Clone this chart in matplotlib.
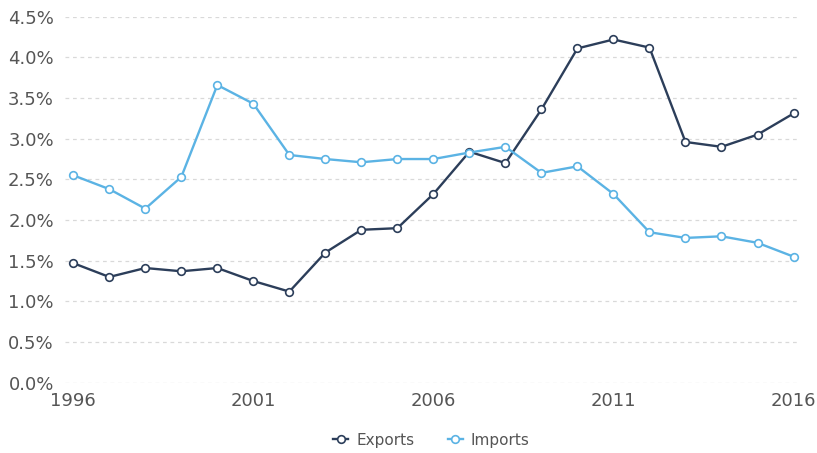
import matplotlib.pyplot as plt
from matplotlib.ticker import FuncFormatter

years = list(range(1996, 2017))
exports = [1.47, 1.30, 1.41, 1.37, 1.41, 1.25, 1.12, 1.60, 1.88, 1.90,
           2.32, 2.84, 2.70, 3.36, 4.11, 4.22, 4.12, 2.96, 2.90, 3.05, 3.31]
imports = [2.55, 2.38, 2.14, 2.53, 3.66, 3.43, 2.80, 2.75, 2.71, 2.75,
           2.75, 2.83, 2.90, 2.58, 2.66, 2.32, 1.85, 1.78, 1.80, 1.72, 1.55]
x_ticks = [1996, 2001, 2006, 2011, 2016]
y_ticks = [0, 0.5, 1.0, 1.5, 2.0, 2.5, 3.0, 3.5, 4.0, 4.5]

fig = plt.figure(figsize=(8.17, 4.53), dpi=100)
ax = fig.add_axes([65 / 817, 1 - 382.7 / 453, (800 - 65) / 817, (382.7 - 16.7) / 453])

ax.plot(years, exports, color='#2c3e5a', lw=1.7, marker='o', ms=5.5,
        mfc='white', mec='#2c3e5a', mew=1.2, label='Exports', zorder=3)
ax.plot(years, imports, color='#5bb3e4', lw=1.7, marker='o', ms=5.5,
        mfc='white', mec='#5bb3e4', mew=1.2, label='Imports', zorder=3)

ax.set_xlim(1995.77, 2016.18)
ax.set_ylim(0, 4.5)
ax.set_xticks(x_ticks)
ax.set_yticks(y_ticks)
ax.yaxis.set_major_formatter(FuncFormatter(lambda v, p: f'{v:.1f}%'))
ax.tick_params(length=0, labelsize=13, labelcolor='#555555')
ax.tick_params(axis='x', pad=7)
ax.tick_params(axis='y', pad=8)
ax.grid(axis='y', color='#d9d9d9', linestyle=(0, (3, 3)), lw=0.9)
ax.set_axisbelow(True)
for s in ax.spines.values():
    s.set_visible(False)

fig.legend(loc='center', bbox_to_anchor=(0.528, 1 - 440 / 453), ncol=2, frameon=False,
           fontsize=11, labelcolor='#555555', handlelength=1.0, handletextpad=0.5,
           columnspacing=2.2, markerscale=1.0)

fig.savefig('out.png', dpi=100)
